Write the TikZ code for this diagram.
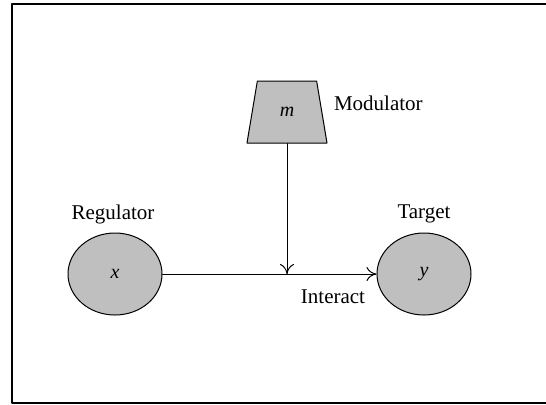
\documentclass[tikz,border=0pt]{standalone}
\usepackage{fontspec}
\setmainfont{Liberation Serif}
\usetikzlibrary{arrows.meta,shapes.geometric}
\begin{document}
\begin{tikzpicture}[line cap=round,line join=round,>={To[length=5pt,width=7pt]},x=0.5pt,y=-0.5pt,
  species/.style={draw,ellipse,fill=black!25,line width=0.5pt,minimum width=47pt,minimum height=41pt,inner sep=0pt},
  modbox/.style={draw,trapezium,trapezium stretches=true,trapezium left angle=75,trapezium right angle=75,fill=black!25,line width=0.5pt,minimum width=40pt,minimum height=31pt,inner sep=0pt},
  lbl/.style={font=\fontsize{10.5}{12}\selectfont}]
                        \useasboundingbox (0,0) rectangle (546,404);
                        \draw [line width=0.6pt] (549,4)-- (12,4)-- (12,403)-- (549,403);
                        \node [modbox] (m) at (287,112) {\textit{m}};
                        \node [species] (x) at (115,274) {\textit{x}};
                        \node [species] (y) at (424,274) {\textit{y}};
                        \coordinate (j) at (287,274);
                        \draw [line width=0.5pt,->] (x)-- (y);
                        \draw [line width=0.5pt,->] (m)-- (j);
                        \node [lbl,anchor=west] (modlbl) at (327,103) {Modulator};
                        \node [lbl] (reglbl) at (113,214) {Regulator};
                        \node [lbl] (tgtlbl) at (424,214) {Target};
                        \node [lbl] (intlbl) at (333,297) {Interact};
\end{tikzpicture}
\end{document}
